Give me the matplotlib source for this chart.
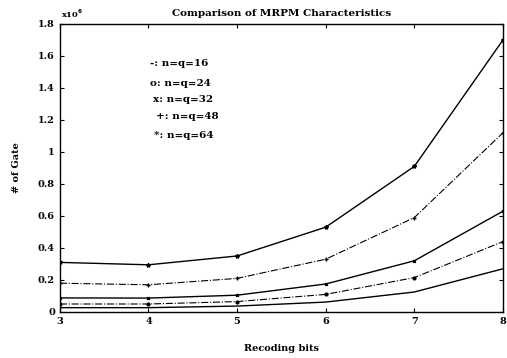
import matplotlib.pyplot as plt
import numpy as np

bits = [3, 4, 5, 6, 7, 8]
gates_64 = [0.31, 0.295, 0.35, 0.53, 0.91, 1.70]
gates_48 = [0.18, 0.17, 0.21, 0.33, 0.59, 1.12]
gates_32 = [0.088, 0.087, 0.105, 0.175, 0.32, 0.63]
gates_24 = [0.05, 0.05, 0.065, 0.11, 0.215, 0.44]
gates_16 = [0.027, 0.027, 0.037, 0.062, 0.125, 0.27]

legend_lines = ["-: n=q=16", "o: n=q=24", "x: n=q=32", "+: n=q=48", "*: n=q=64"]

plt.rcParams["font.family"] = "DejaVu Serif"
plt.rcParams["font.weight"] = "bold"

fig = plt.figure(figsize=(5.07, 3.58), dpi=100)
ax = fig.add_axes([0.118, 0.1285, 0.874, 0.8045])

ax.plot(bits, gates_64, color="black", linewidth=1.0, marker="*", markersize=3)
ax.plot(bits, gates_48, color="black", linewidth=0.8, linestyle="-.", marker="+", markersize=3)
ax.plot(bits, gates_32, color="black", linewidth=1.0, marker="x", markersize=2)
ax.plot(bits, gates_24, color="black", linewidth=0.8, linestyle="-.", marker="o", markersize=2)
ax.plot(bits, gates_16, color="black", linewidth=1.0)

ax.set_xlim(3, 8)
ax.set_ylim(0, 1.8)
ax.set_xticks(bits)
ax.set_yticks(np.arange(0, 1.81, 0.2))
ax.set_yticklabels(["0", "0.2", "0.4", "0.6", "0.8", "1", "1.2", "1.4", "1.6", "1.8"])
ax.tick_params(direction="in", top=True, right=True, labelsize=7, length=3)
for s in ax.spines.values():
    s.set_linewidth(1.0)

ax.set_title("Comparison of MRPM Characteristics", fontsize=7.5, fontweight="bold", pad=6)
ax.set_xlabel("Recoding bits", fontsize=7, fontweight="bold", labelpad=13)
ax.set_ylabel("# of Gate", fontsize=7, fontweight="bold", labelpad=12)
ax.text(0.003, 1.015, "x10$^6$", transform=ax.transAxes, fontsize=6, fontweight="bold", ha="left", va="bottom")

ys = [1.55, 1.43, 1.33, 1.22, 1.10]
xs = [4.02, 4.02, 4.05, 4.08, 4.06]
for x, y, t in zip(xs, ys, legend_lines):
    ax.text(x, y, t, fontsize=7.5, fontweight="bold", va="center")

fig.savefig("out.png", dpi=100)
